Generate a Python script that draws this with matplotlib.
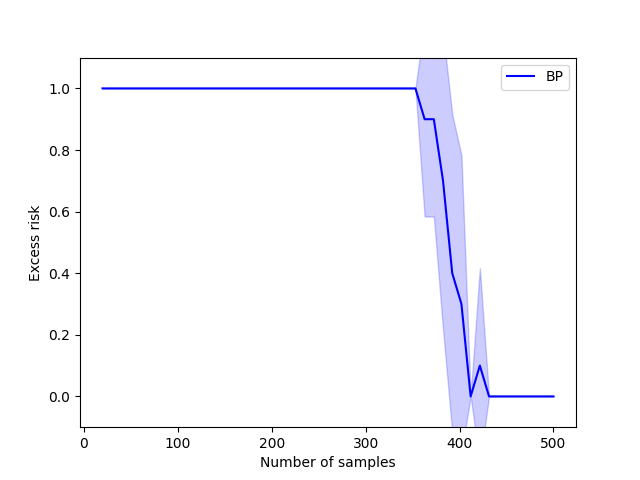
import numpy as np
import matplotlib
matplotlib.use("Agg")
import matplotlib.pyplot as plt

# sample sizes (50 evenly spaced runs from 20 to 500)
n_samples = np.linspace(20, 500, 50)

# mean excess risk per sample size
mean_risk = [1.0] * 35 + [0.9, 0.9, 0.7, 0.4, 0.3, 0.0, 0.1] + [0.0] * 8
# spread over repetitions
std_risk = [0.0] * 35 + [0.316, 0.316, 0.483, 0.516, 0.483, 0.0, 0.316] + [0.0] * 8

mean_risk = np.array(mean_risk)
std_risk = np.array(std_risk)

fig, ax = plt.subplots(figsize=(6.4, 4.8), dpi=100)
ax.plot(n_samples, mean_risk, color='blue', label='BP')
ax.fill_between(n_samples, mean_risk - std_risk, mean_risk + std_risk,
                color='blue', alpha=0.2)

ax.set_ylim(-0.1, 1.1)
ax.set_xlabel('Number of samples')
ax.set_ylabel('Excess risk')
ax.legend(loc='upper right')

fig.savefig('out.png')
